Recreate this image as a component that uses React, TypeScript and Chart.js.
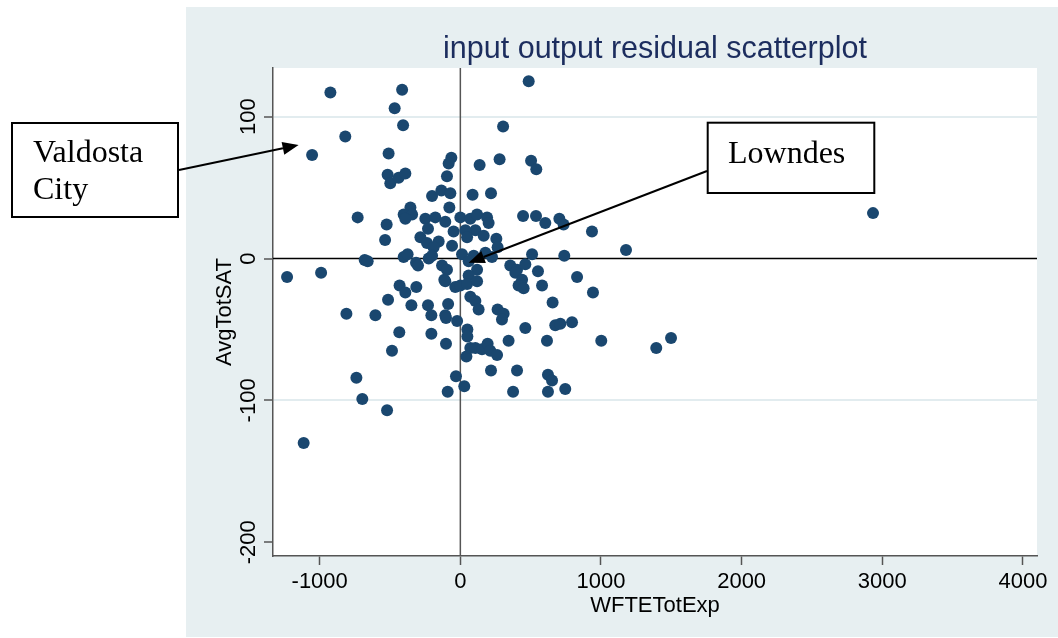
import React, { useEffect, useRef } from "react";
import { Chart, registerables } from "chart.js";

Chart.register(...registerables);

// ---------- texts ----------
const CHART_TITLE = "input output residual scatterplot";
const X_AXIS_TITLE = "WFTETotExp";
const Y_AXIS_TITLE = "AvgTotSAT";
const VALDOSTA_LINES = ["Valdosta", "City"];
const LOWNDES_LINES = ["Lowndes"];

// ---------- axes ----------
const X_MIN = -1332;
const X_MAX = 4100;
const Y_MIN = -209.7;
const Y_MAX = 134.3;
const X_TICKS = [-1000, 0, 1000, 2000, 3000, 4000];
const Y_TICKS = [-200, -100, 0, 100];
const Y_GRID = [-100, 100];

// ---------- data (residuals) ----------
const X_VALUES = [
  -924, -414, -467, -407, -818, -1054, -510, -64, -83, -517,
  -498, -439, -391, -95, -201, -135, -71, -78, -730, -524,
  -535, -355, -403, -343, -391, -249, -178, -107, 0, -230,
  -48, -284, -237, -154, -190, -59, 486, 304, 279, 137,
  503, 540, 87, 218, 71, 119, 190, 201, 107, 166,
  36, 48, 256, 265, 446, 538, 604, 704, 734, 936,
  1178, 510, 739, 12, 95, 178, 225, -1232, -990, -680,
  -659, -403, -375, -315, -301, -225, -201, -130, -95, -114,
  -107, -36, 0, -432, -391, -313, -514, -348, -230, -206,
  -87, -107, -102, -23, -810, -604, -434, -206, -102, -486,
  50, 50, 43, -739, -31, -90, 28, -697, -521, -1114,
  119, 355, 403, 462, 391, 439, 414, 450, 552, 581,
  830, 943, 656, 59, 48, 119, 71, 107, 130, 265,
  308, 296, 462, 675, 711, 794, 71, 107, 154, 194,
  213, 261, 343, 616, 1002, 218, 403, 623, 652, 746,
  375, 623, 1393, 1498, 2934, 59,
];
const Y_VALUES = [
  117, 119, 106, 94, 86, 73, 74, 71, 67, 59,
  53, 57, 60, 58, 44, 48, 46, 36, 29, 24,
  13, 36, 31, 31, 28, 28, 29, 26, 29, 21,
  19, 15, 11, 12, 8, 9, 125, 93, 70, 66,
  69, 63, 45, 46, 28, 31, 29, 25, 20, 16,
  20, 15, 14, 8, 30, 30, 25, 28, 24, 19,
  6, 3, 2, 3, 2, 4, 1, -13, -10, -1,
  -2, 1, 3, -3, -5, 0, 2, -5, -8, -15,
  -16, -20, -19, -19, -24, -20, -29, -33, -33, -40,
  -32, -40, -42, -44, -39, -40, -52, -53, -60, -65,
  -50, -55, -69, -84, -83, -94, -90, -99, -107, -130,
  -8, -5, -8, -4, -10, -15, -19, -21, -9, -19,
  -13, -24, -31, -12, -18, -16, -27, -30, -36, -36,
  -39, -43, -49, -47, -46, -45, -63, -63, -64, -60,
  -65, -68, -58, -58, -58, -79, -79, -82, -86, -92,
  -94, -94, -63, -56, 32, -2,
];

// arrow targets (data coordinates)
const VALDOSTA_TARGET = { x: -1150, y: 80 };
const LOWNDES_TARGET = { x: 59, y: -3 };

// ---------- styles ----------
const BG = "#e7eff1";
const GRID = "#e2ecef";
const AXIS = "#555555";
const DOT = "#1a476f";
const TITLE_COLOR = "#1c2d5e";
const SANS = '"Liberation Sans", Arial, sans-serif';
const SERIF = '"Liberation Serif", "Times New Roman", serif';

function drawArrow(ctx: CanvasRenderingContext2D, x1: number, y1: number, x2: number, y2: number) {
  const dx = x2 - x1;
  const dy = y2 - y1;
  const len = Math.hypot(dx, dy);
  const ux = dx / len;
  const uy = dy / len;
  const headLen = 16;
  const headHalf = 6.5;
  const bx = x2 - ux * headLen;
  const by = y2 - uy * headLen;
  ctx.beginPath();
  ctx.moveTo(x1, y1);
  ctx.lineTo(bx, by);
  ctx.stroke();
  ctx.beginPath();
  ctx.moveTo(x2, y2);
  ctx.lineTo(bx - uy * headHalf, by + ux * headHalf);
  ctx.lineTo(bx + uy * headHalf, by - ux * headHalf);
  ctx.closePath();
  ctx.fill();
}

export default function App() {
  const ref = useRef<HTMLCanvasElement>(null);

  useEffect(() => {
    const canvas = ref.current;
    if (!canvas) return;
    const points = X_VALUES.map((x, i) => ({ x, y: Y_VALUES[i] }));

    const stataPlugin = {
      id: "stataLook",
      beforeDraw(chart: any) {
        const { ctx, chartArea: a } = chart;
        ctx.save();
        ctx.fillStyle = "#ffffff";
        ctx.fillRect(0, 0, chart.width, chart.height);
        ctx.fillStyle = BG;
        ctx.fillRect(186, 7, chart.width - 186, 630);
        ctx.fillStyle = "#ffffff";
        ctx.fillRect(a.left, a.top, a.right - a.left, a.bottom - a.top);
        ctx.restore();
      },
      beforeDatasetsDraw(chart: any) {
        const { ctx, chartArea: a, scales } = chart;
        const x0 = scales.x.getPixelForValue(0);
        const y0 = scales.y.getPixelForValue(0);
        ctx.save();
        ctx.lineWidth = 1.5;
        ctx.strokeStyle = AXIS;
        ctx.beginPath();
        ctx.moveTo(x0, a.top);
        ctx.lineTo(x0, a.bottom);
        ctx.stroke();
        ctx.strokeStyle = "#000000";
        ctx.beginPath();
        ctx.moveTo(a.left, y0);
        ctx.lineTo(a.right, y0);
        ctx.stroke();
        ctx.restore();
      },
      afterDraw(chart: any) {
        const { ctx, chartArea: a, scales } = chart;
        const cx = (a.left + a.right) / 2;
        const cy = (a.top + a.bottom) / 2;
        ctx.save();
        // chart title
        ctx.fillStyle = TITLE_COLOR;
        ctx.font = `30.5px ${SANS}`;
        ctx.textAlign = "center";
        ctx.textBaseline = "alphabetic";
        ctx.fillText(CHART_TITLE, cx, 57.5);
        // x axis title
        ctx.fillStyle = "#000000";
        ctx.font = `22px ${SANS}`;
        ctx.fillText(X_AXIS_TITLE, cx, 611.5);
        // y axis title
        ctx.save();
        ctx.translate(231, cy);
        ctx.rotate(-Math.PI / 2);
        ctx.fillText(Y_AXIS_TITLE, 0, 0);
        ctx.restore();
        // y tick labels (rotated, from the scale's ticks)
        for (const t of scales.y.ticks) {
          const py = scales.y.getPixelForValue(t.value);
          ctx.save();
          ctx.translate(255, py);
          ctx.rotate(-Math.PI / 2);
          ctx.fillText(String(t.value), 0, 0);
          ctx.restore();
        }
        // annotations
        ctx.lineWidth = 2;
        ctx.strokeStyle = "#000000";
        ctx.fillStyle = "#000000";
        const vx = scales.x.getPixelForValue(VALDOSTA_TARGET.x);
        const vy = scales.y.getPixelForValue(VALDOSTA_TARGET.y);
        drawArrow(ctx, 179, 170, vx, vy);
        const lx = scales.x.getPixelForValue(LOWNDES_TARGET.x);
        const ly = scales.y.getPixelForValue(LOWNDES_TARGET.y);
        drawArrow(ctx, 707, 171, lx, ly);

        ctx.fillStyle = "#ffffff";
        ctx.fillRect(12, 123, 166, 94);
        ctx.fillRect(707.7, 122.7, 166.6, 70.3);
        ctx.strokeRect(12, 123, 166, 94);
        ctx.strokeRect(707.7, 122.7, 166.6, 70.3);
        ctx.fillStyle = "#000000";
        ctx.font = `32px ${SERIF}`;
        ctx.textAlign = "left";
        VALDOSTA_LINES.forEach((s, i) => ctx.fillText(s, 33, 162 + i * 36.5));
        LOWNDES_LINES.forEach((s, i) => ctx.fillText(s, 728, 163 + i * 36.5));
        ctx.restore();
      },
    };

    const chart = new Chart(canvas, {
      type: "scatter",
      data: {
        datasets: [
          {
            data: points,
            backgroundColor: DOT,
            borderColor: DOT,
            borderWidth: 0,
            pointRadius: 6,
            pointHoverRadius: 6,
          },
        ],
      },
      options: {
        responsive: false,
        animation: false,
        events: [],
        layout: { padding: { left: 190, top: 68, right: 21, bottom: 0 } },
        plugins: {
          legend: { display: false },
          tooltip: { enabled: false },
          title: { display: false },
        },
        scales: {
          x: {
            type: "linear",
            position: "bottom",
            min: X_MIN,
            max: X_MAX,
            afterBuildTicks: (s: any) => {
              s.ticks = X_TICKS.map((v) => ({ value: v }));
            },
            afterFit: (s: any) => {
              s.height = 82;
            },
            grid: {
              drawOnChartArea: false,
              drawTicks: true,
              tickLength: 9,
              tickColor: AXIS,
              tickWidth: 1.5,
            },
            border: { display: true, color: AXIS, width: 1.5 },
            ticks: {
              autoSkip: false,
              maxRotation: 0,
              padding: 4,
              color: "#000000",
              font: { family: SANS, size: 22 },
              callback: (v: any) => String(v),
            },
          },
          y: {
            type: "linear",
            position: "left",
            min: Y_MIN,
            max: Y_MAX,
            afterBuildTicks: (s: any) => {
              s.ticks = Y_TICKS.map((v) => ({ value: v }));
            },
            afterFit: (s: any) => {
              s.width = 83;
            },
            grid: {
              drawOnChartArea: true,
              color: (c: any) => (c.tick && Y_GRID.includes(c.tick.value) ? GRID : "rgba(0,0,0,0)"),
              lineWidth: 2,
              drawTicks: true,
              tickLength: 9,
              tickColor: AXIS,
              tickWidth: 1.5,
            },
            border: { display: true, color: AXIS, width: 1.5 },
            ticks: { display: false },
          },
        },
      },
      plugins: [stataPlugin],
    });

    return () => chart.destroy();
  }, []);

  return (
    <div style={{ position: "absolute", left: 0, top: 0, width: 1058, height: 638 }}>
      <canvas ref={ref} width={1058} height={638} style={{ display: "block" }} />
    </div>
  );
}
